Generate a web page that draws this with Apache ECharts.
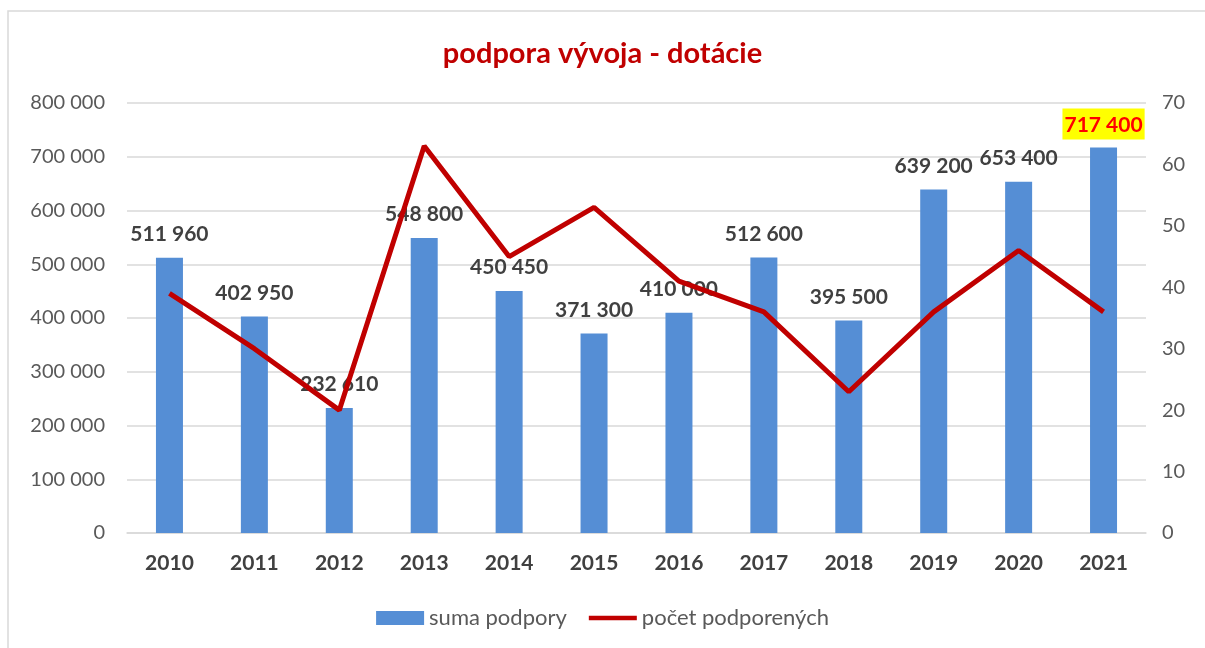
<!DOCTYPE html>
<html>
<head>
<meta charset="utf-8">
<script src="https://cdn.jsdelivr.net/npm/echarts@6/dist/echarts.min.js"></script>
<style>
  html, body { margin: 0; padding: 0; background: #fff; }
  #main { width: 1205px; height: 648px; }
</style>
</head>
<body>
<div id="main"></div>
<script>
const years = ['2010', '2011', '2012', '2013', '2014', '2015', '2016', '2017', '2018', '2019', '2020', '2021'];
const sumaPodpory = [511960, 402950, 232610, 548800, 450450, 371300, 410000, 512600, 395500, 639200, 653400, 717400];
const pocetPodporenych = [39, 30, 20, 63, 45, 53, 41, 36, 23, 36, 46, 36];

// thousands separated by a space, as in the original
const fmt = (v) => String(v).replace(/\B(?=(\d{3})+(?!\d))/g, ' ');

const font = 'Lato, "Open Sans", sans-serif';
const chart = echarts.init(document.getElementById('main'));

const barData = sumaPodpory.map((v, i) => {
  if (i === sumaPodpory.length - 1) {
    // highlighted last value
    return {
      value: v,
      label: {
        color: '#FF0000',
        backgroundColor: '#FFFF00',
        padding: [6, 2, 4, 2],
        distance: 8
      }
    };
  }
  return v;
});

const option = {
  animation: false,
  textStyle: { fontFamily: font },
  title: {
    text: 'podpora vývoja - dotácie',
    left: 'center',
    top: 34,
    textStyle: { color: '#C00000', fontSize: 29, fontWeight: 'bold', fontFamily: font }
  },
  graphic: [{
    type: 'rect',
    shape: { x: 8, y: 11, width: 1300, height: 700 },
    style: { fill: 'none', stroke: '#d9d9d9', lineWidth: 1.5 },
    silent: true,
    z: -1
  }],
  legend: {
    bottom: 14,
    left: 'center',
    itemGap: 22,
    itemWidth: 48,
    itemHeight: 14,
    textStyle: { color: '#595959', fontSize: 22, fontFamily: font },
    data: [
      { name: 'suma podpory', icon: 'rect' },
      { name: 'počet podporených', icon: 'path://M0,0 L54,0 L54,5 L0,5 Z' }
    ]
  },
  grid: { left: 127, right: 59, top: 103, bottom: 115 },
  xAxis: {
    type: 'category',
    data: years,
    axisTick: { show: false },
    axisLine: { lineStyle: { color: '#d9d9d9', width: 1.5 } },
    axisLabel: { color: '#404040', fontSize: 21, fontWeight: 'bold', margin: 20 }
  },
  yAxis: [
    {
      type: 'value',
      min: 0,
      max: 800000,
      interval: 100000,
      axisLabel: { color: '#595959', fontSize: 20, margin: 22, formatter: fmt },
      splitLine: { lineStyle: { color: '#d9d9d9', width: 1.5 } }
    },
    {
      type: 'value',
      min: 0,
      max: 70,
      interval: 10,
      position: 'right',
      axisLabel: { color: '#595959', fontSize: 20, margin: 16 },
      splitLine: { show: false }
    }
  ],
  series: [
    {
      name: 'suma podpory',
      type: 'bar',
      data: barData,
      barWidth: 27,
      yAxisIndex: 0,
      itemStyle: { color: '#558ED5' },
      label: {
        show: true,
        position: 'top',
        distance: 13,
        color: '#404040',
        fontSize: 21,
        fontWeight: 'bold',
        fontFamily: font,
        formatter: (p) => fmt(p.value)
      }
    },
    {
      name: 'počet podporených',
      type: 'line',
      data: pocetPodporenych,
      yAxisIndex: 1,
      symbol: 'none',
      lineStyle: { color: '#C00000', width: 5 },
      itemStyle: { color: '#C00000' },
      z: 3
    }
  ]
};

chart.setOption(option);
</script>
</body>
</html>
